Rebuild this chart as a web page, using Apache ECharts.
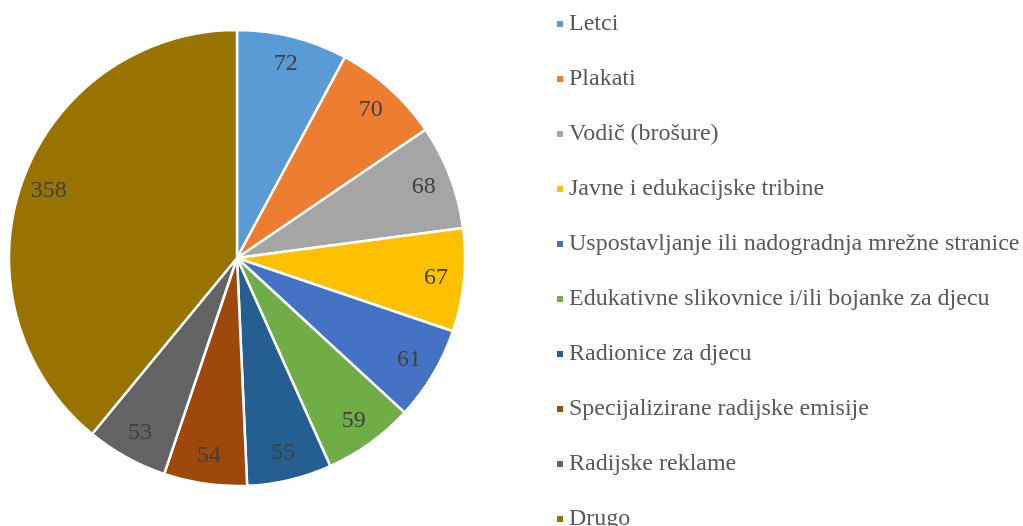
<!DOCTYPE html>
<html><head><meta charset="utf-8">
<script src="https://cdn.jsdelivr.net/npm/echarts@6/dist/echarts.min.js"></script>
<style>html,body{margin:0;padding:0;background:#fff}#c{width:1023px;height:526px}</style>
</head><body><div id="c"></div>
<script>
const categories = ["Letci","Plakati","Vodič (brošure)","Javne i edukacijske tribine","Uspostavljanje ili nadogradnja mrežne stranice","Edukativne slikovnice i/ili bojanke za djecu","Radionice za djecu","Specijalizirane radijske emisije","Radijske reklame","Drugo"];
const values = [72,70,68,67,61,59,55,54,53,358];
const colors = ["#5B9BD5","#ED7D31","#A5A5A5","#FFC000","#4472C4","#70AD47","#255E91","#9E480E","#636363","#997300"];

const FONT = 'Liberation Serif';
const data = categories.map((n,i)=>({name:n,value:values[i],itemStyle:{color:colors[i]}}));
const labelData = categories.map((n,i)=>({name:n,value:values[i]}));
const chart = echarts.init(document.getElementById('c'));
chart.setOption({
  animation:false,
  legend:{
    orient:'vertical', left:555, top:12, padding:0, height:700, itemWidth:8, itemHeight:8, icon:'rect',
    itemGap:31, data:categories,
    textStyle:{fontFamily:FONT,fontSize:24,color:'#595959',lineHeight:24}
  },
  series:[
    {type:'pie', center:[237,258], radius:[0,228], startAngle:90, clockwise:true,
     data:data, label:{show:false}, labelLine:{show:false},
     itemStyle:{borderColor:'#fff',borderWidth:2.5}, silent:true},
    {type:'pie', center:[237,258], radius:[166,228], startAngle:90, clockwise:true,
     data:labelData, silent:true, legendHoverLink:false,
     itemStyle:{color:'rgba(0,0,0,0)'},
     label:{show:true, position:'inside', formatter:'{c}',
       fontFamily:FONT, fontSize:24, color:'#404040'},
     labelLine:{show:false}}
  ]
});
</script></body></html>
